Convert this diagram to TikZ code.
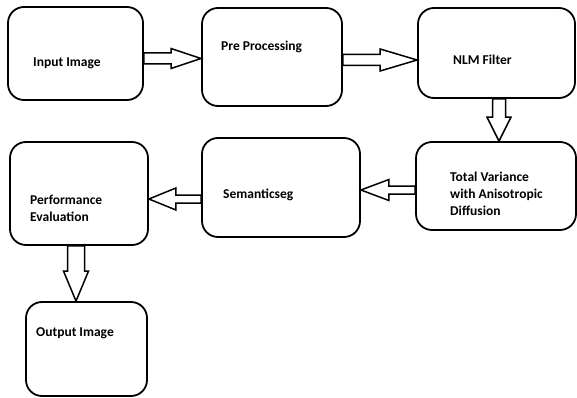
\documentclass[tikz,border=0pt]{standalone}
\usepackage{fontspec}
\setmainfont{Carlito}
\usetikzlibrary{calc}
\tikzset{
  box/.style={draw=black, line width=1.8pt, rounded corners=16pt, inner sep=0pt},
  lbl/.style={anchor=base west, inner sep=0pt, font=\fontsize{13.5}{17}\selectfont\bfseries},
  mlbl/.style={anchor=north west, inner sep=0pt, align=left, font=\fontsize{13.5}{17}\selectfont\bfseries},
  barrow/.style={draw=black, line width=1.5pt, fill=white, line join=miter}
}
\newcommand{\hblock}[5]{% start, tip, h, H, L (signed)
  \draw[barrow] ($(#1)+(0,-#3)$) -- ($(#2)+({-1*(#5)},-#3)$) -- ($(#2)+({-1*(#5)},-#4)$) -- (#2)
    -- ($(#2)+({-1*(#5)},#4)$) -- ($(#2)+({-1*(#5)},#3)$) -- ($(#1)+(0,#3)$) -- cycle;}
\newcommand{\vblock}[5]{% start, tip, h, H, L
  \draw[barrow] ($(#1)+(-#3,0)$) -- ($(#2)+(-#3,-#5)$) -- ($(#2)+(-#4,-#5)$) -- (#2)
    -- ($(#2)+(#4,-#5)$) -- ($(#2)+(#3,-#5)$) -- ($(#1)+(#3,0)$) -- cycle;}
\begin{document}
\begin{tikzpicture}[x=1pt, y=-1pt]
  \useasboundingbox (0,0) rectangle (577,398);
  % boxes
  \node[box, minimum width=135pt, minimum height=93pt] (b1) at (75.5,53.5) {};
  \node[box, minimum width=140pt, minimum height=98pt] (b2) at (272,57) {};
  \node[box, minimum width=157pt, minimum height=90pt] (b3) at (496.5,53) {};
  \node[box, minimum width=160pt, minimum height=88pt] (b4) at (496,186) {};
  \node[box, minimum width=158pt, minimum height=99pt] (b5) at (281,187.5) {};
  \node[box, minimum width=138pt, minimum height=103pt] (b6) at (79,193.5) {};
  \node[box, minimum width=121pt, minimum height=94pt] (b7) at (86.5,349) {};
  % labels
  \node[lbl] (t1) at (33,67) {Input Image};
  \node[lbl] (t2) at (221,51) {Pre Processing};
  \node[lbl] (t3) at (453,65) {NLM Filter};
  \node[mlbl] (t4) at (450,171.5) {Total Variance\\with Anisotropic\\Diffusion};
  \node[lbl] (t5) at (223,198) {Semanticseg};
  \node[mlbl] (t6) at (30,194.5) {Performance\\Evaluation};
  \node[lbl] (t7) at (36,336) {Output Image};
  % connector end points
  \coordinate (a1s) at (b1.east |- 0,58.5);
  \coordinate (a1e) at (b2.west |- 0,58.5);
  \coordinate (a2s) at (b2.east |- 0,60);
  \coordinate (a2e) at (b3.west |- 0,60);
  \coordinate (a3s) at (b3.south -| 499,0);
  \coordinate (a3e) at (b4.north -| 499,0);
  \coordinate (a4s) at (b4.west |- 0,190);
  \coordinate (a4e) at (b5.east |- 0,190);
  \coordinate (a5s) at (b5.west |- 0,199);
  \coordinate (a5e) at (b6.east |- 0,199);
  \coordinate (a6s) at (b6.south -| 76,0);
  \coordinate (a6e) at (b7.north -| 76,0);
  % block arrows
  \hblock{a1s}{a1e}{5.5}{10}{30}
  \hblock{a2s}{a2e}{5.5}{11}{37}
  \vblock{a3s}{a3e}{6.5}{12}{24}
  \hblock{a4s}{a4e}{4}{10.5}{-28}
  \hblock{a5s}{a5e}{4}{11}{-27}
  \vblock{a6s}{a6e}{8.5}{12.5}{30}
\end{tikzpicture}
\end{document}
